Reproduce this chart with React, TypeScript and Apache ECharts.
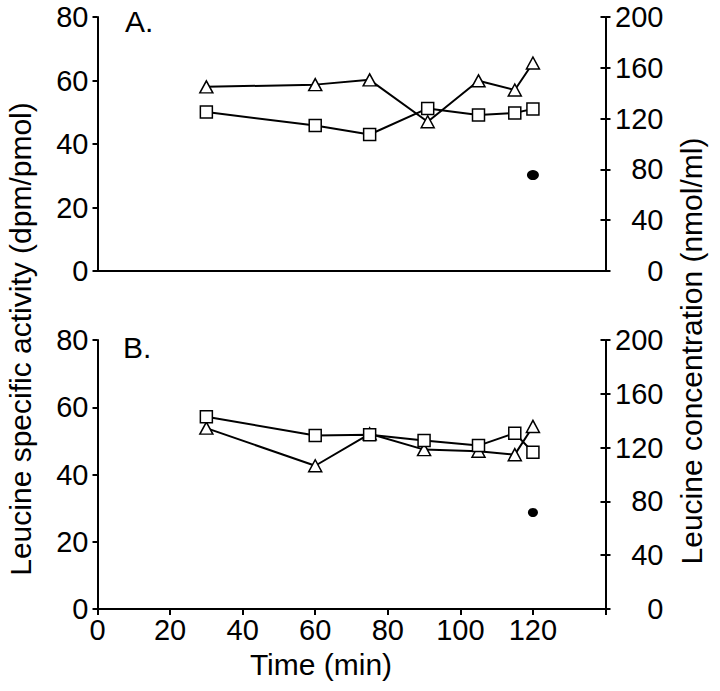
import React, { useEffect, useRef } from "react";
import * as echarts from "echarts";

const timeTicks = [0, 20, 40, 60, 80, 100, 120, 140];
const leftTicks = [0, 20, 40, 60, 80];
const rightTicks = [0, 40, 80, 120, 160, 200];

const timesA = [30, 60, 75, 91, 105, 115, 120];
const trianglesA = [58, 58.7, 60.2, 47, 59.9, 57, 65.5];
const squaresA = [50.1, 45.8, 43, 51.2, 49.1, 49.8, 51];
const dotA = [[120, 30.2]];

const timesB = [30, 60, 75, 90, 105, 115, 120];
const squaresB = [57.2, 51.6, 51.8, 50.1, 48.6, 52.3, 46.6];
const trianglesB = [53.8, 42.6, 52.1, 47.4, 46.9, 45.9, 54.3];
const dotB = [[120, 28.7]];

const FONT = "Liberation Sans, Arial, sans-serif";
const BLACK = "#000";
const FS = 29;

export default function App() {
  const ref = useRef<HTMLDivElement>(null);
  useEffect(() => {
    if (!ref.current) return;
    const chart = echarts.init(ref.current, null, { renderer: "svg" });
    const axisLine = { show: true, lineStyle: { color: BLACK, width: 2 } };
    const grids = [
      { left: 97.5, top: 17, width: 508, height: 254 },
      { left: 97.5, top: 340, width: 508, height: 269 },
    ];
    const xAxes: any[] = [0, 1].map((i) => ({
      type: "value",
      gridIndex: i,
      min: timeTicks[0],
      max: timeTicks[timeTicks.length - 1],
      interval: 20,
      axisLine: { ...axisLine, onZero: false },
      axisTick: { show: i === 1, length: 6, lineStyle: { color: BLACK, width: 2 } },
      axisLabel: {
        show: i === 1,
        color: BLACK,
        fontSize: FS,
        fontFamily: FONT,
        margin: 6,
        formatter: (v: number) => (v === 140 ? "" : String(v)),
      },
      splitLine: { show: false },
    }));
    const yAxes: any[] = [];
    [0, 1].forEach((i) => {
      yAxes.push({
        type: "value",
        gridIndex: i,
        position: "left",
        min: leftTicks[0],
        max: leftTicks[leftTicks.length - 1],
        interval: 20,
        axisLine,
        axisTick: { show: true, length: 5, lineStyle: { color: BLACK, width: 2 } },
        axisLabel: { color: BLACK, fontSize: FS, fontFamily: FONT, margin: 9 },
        splitLine: { show: false },
      });
      yAxes.push({
        type: "value",
        gridIndex: i,
        position: "right",
        min: rightTicks[0],
        max: rightTicks[rightTicks.length - 1],
        interval: 40,
        axisLine,
        axisTick: { show: true, length: 5, lineStyle: { color: BLACK, width: 2 } },
        axisLabel: { color: BLACK, fontSize: FS, fontFamily: FONT, margin: 58, align: "right" },
        splitLine: { show: false },
      });
      yAxes.push({
        type: "value",
        gridIndex: i,
        position: "right",
        min: rightTicks[0],
        max: rightTicks[rightTicks.length - 1],
        interval: 40,
        axisLine: { show: false },
        axisTick: { show: true, inside: true, length: 5, lineStyle: { color: BLACK, width: 2 } },
        axisLabel: { show: false },
        splitLine: { show: false },
      });
    });
    const lineSeries = (
      xi: number,
      yi: number,
      times: number[],
      vals: number[],
      symbol: string,
      size: any
    ) => ({
      type: "line",
      xAxisIndex: xi,
      yAxisIndex: yi,
      data: times.map((t, k) => [t, vals[k]]),
      symbol,
      symbolSize: size,
      showAllSymbol: true,
      lineStyle: { color: BLACK, width: 2 },
      itemStyle: { color: "#fff", borderColor: BLACK, borderWidth: 1.5 },
      z: 3,
    });
    const dotSeries = (xi: number, yi: number, data: number[][], size: any) => ({
      type: "scatter",
      xAxisIndex: xi,
      yAxisIndex: yi,
      data,
      symbol: "circle",
      symbolSize: size,
      itemStyle: { color: BLACK, opacity: 1 },
    });
    const txt = { fontSize: FS + 1, fontFamily: FONT, fill: BLACK };
    chart.setOption({
      animation: false,
      backgroundColor: "#fff",
      grid: grids,
      xAxis: xAxes,
      yAxis: yAxes,
      series: [
        lineSeries(0, 0, timesA, trianglesA, "triangle", [13, 12]),
        lineSeries(0, 0, timesA, squaresA, "rect", 12),
        dotSeries(0, 0, dotA, [12, 10]),
        lineSeries(1, 3, timesB, trianglesB, "triangle", [13, 12]),
        lineSeries(1, 3, timesB, squaresB, "rect", 12),
        dotSeries(1, 3, dotB, [10, 9]),
      ],
      graphic: [
        { type: "text", x: 125, y: 21, style: { ...txt, text: "A.", verticalAlign: "middle" } },
        { type: "text", x: 123, y: 347, style: { ...txt, text: "B.", verticalAlign: "middle" } },
        {
          type: "text",
          x: 321,
          y: 664,
          style: { ...txt, text: "Time (min)", align: "center", verticalAlign: "middle" },
        },
        {
          type: "text",
          x: 20,
          y: 339,
          rotation: Math.PI / 2,
          style: {
            ...txt,
            text: "Leucine specific activity (dpm/pmol)",
            align: "center",
            verticalAlign: "middle",
          },
        },
        {
          type: "text",
          x: 691,
          y: 351,
          rotation: Math.PI / 2,
          style: {
            ...txt,
            text: "Leucine concentration (nmol/ml)",
            align: "center",
            verticalAlign: "middle",
          },
        },
      ],
    });
    return () => chart.dispose();
  }, []);
  return (
    <div
      ref={ref}
      style={{ position: "absolute", left: 0, top: 0, width: 720, height: 691 }}
    />
  );
}
